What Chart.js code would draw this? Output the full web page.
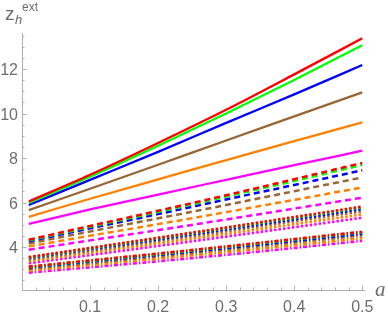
<!DOCTYPE html>
<html>
<head>
<meta charset="utf-8">
<script src="https://cdn.jsdelivr.net/npm/chart.js@4/dist/chart.umd.min.js"></script>
<style>
  html, body { margin: 0; padding: 0; background: #fff; }
  #grafico { display: block; }
</style>
</head>
<body>
<canvas id="grafico" width="388" height="319"></canvas>
<script>
// valores de a (eixo x)
const valoresA = [0.01, 0.1, 0.2, 0.3, 0.4, 0.5];

// cores das curvas: vermelho, verde, azul, marrom, laranja, magenta
const coresCurvas = ['#ff0000', '#00ff00', '#0000ff', '#996633', '#ff8000', '#ff00ff'];

// curvas continuas
const zSolido = [
    [6.05, 7.25, 8.68, 10.17, 11.76, 13.38],
    [5.99, 7.16, 8.55, 10.00, 11.51, 13.07],
    [5.89, 7.02, 8.28, 9.58, 10.86, 12.18],
    [5.66, 6.62, 7.70, 8.79, 9.87, 10.95],
    [5.36, 6.17, 7.04, 7.91, 8.76, 9.60],
    [5.04, 5.69, 6.36, 7.02, 7.68, 8.33]
];

// curvas tracejadas
const zTracejado = [
    [4.33, 4.95, 5.63, 6.33, 7.05, 7.78],
    [4.30, 4.91, 5.58, 6.27, 6.97, 7.69],
    [4.26, 4.84, 5.48, 6.14, 6.79, 7.45],
    [4.16, 4.70, 5.29, 5.89, 6.51, 7.13],
    [4.03, 4.51, 5.03, 5.57, 6.12, 6.68],
    [3.88, 4.30, 4.76, 5.24, 5.73, 6.22]
];

// curvas pontilhadas
const zPontilhado = [
    [3.55, 3.96, 4.42, 4.88, 5.35, 5.82],
    [3.53, 3.94, 4.40, 4.86, 5.32, 5.79],
    [3.51, 3.91, 4.35, 4.80, 5.25, 5.71],
    [3.44, 3.83, 4.27, 4.71, 5.16, 5.61],
    [3.36, 3.74, 4.16, 4.59, 5.03, 5.47],
    [3.27, 3.64, 4.05, 4.47, 4.89, 5.32]
];

// curvas ponto-traco
const zPontoTraco = [
    [3.12, 3.40, 3.71, 4.03, 4.36, 4.69],
    [3.10, 3.38, 3.69, 4.01, 4.34, 4.67],
    [3.08, 3.35, 3.65, 3.96, 4.28, 4.60],
    [3.02, 3.28, 3.58, 3.88, 4.20, 4.52],
    [2.94, 3.19, 3.48, 3.77, 4.08, 4.40],
    [2.85, 3.09, 3.36, 3.65, 3.96, 4.28]
];

// marcas dos eixos
const ticksX = [0.1, 0.2, 0.3, 0.4, 0.5];
const ticksY = [4, 6, 8, 10, 12];

const corEixo = '#b0b0b0';
const corTexto = '#6e6e6e';

// monta os datasets de um grupo de curvas
function montarGrupo(grupo, tracejado, espessura) {
    return grupo.map((valores, i) => ({
        data: valores.map((z, j) => ({ x: valoresA[j], y: z })),
        borderColor: coresCurvas[i],
        borderWidth: espessura,
        borderDash: tracejado,
        borderCapStyle: 'butt',
        pointRadius: 0,
        cubicInterpolationMode: 'monotone',
        fill: false
    }));
}

const datasets = [
    ...montarGrupo(zPontoTraco, [4, 2, 1.5, 2], 2.6),
    ...montarGrupo(zPontilhado, [2.5, 2], 2.6),
    ...montarGrupo(zTracejado, [6, 4], 2.5),
    ...montarGrupo(zSolido, [], 2.3)
];

// desenha eixos no estilo do Mathematica (ticks para dentro)
const pluginEixos = {
    id: 'eixos',
    beforeDatasetsDraw(chart) {
        const ctx = chart.ctx;
        const sx = chart.scales.x;
        const sy = chart.scales.y;
        const x0 = sx.getPixelForValue(0);
        const y0 = sy.getPixelForValue(sy.min);
        const xFim = sx.getPixelForValue(sx.max);
        const yTopo = sy.getPixelForValue(sy.max);

        ctx.save();
        ctx.strokeStyle = corEixo;
        ctx.lineWidth = 1;
        ctx.beginPath();
        ctx.moveTo(x0, y0 + 0.5);
        ctx.lineTo(xFim, y0 + 0.5);
        ctx.moveTo(x0 + 0.5, y0);
        ctx.lineTo(x0 + 0.5, yTopo);
        ctx.stroke();

        // ticks menores
        ctx.beginPath();
        for (let k = 1; k <= 25; k++) {
            const px = Math.round(sx.getPixelForValue(k * 0.02)) + 0.5;
            const tam = (k % 5 === 0) ? 4.5 : 2.5;
            ctx.moveTo(px, y0);
            ctx.lineTo(px, y0 - tam);
        }
        for (let v = 2.5; v <= sy.max; v += 0.5) {
            const py = Math.round(sy.getPixelForValue(v)) + 0.5;
            const tam = (v % 2 === 0) ? 4.5 : 2.5;
            ctx.moveTo(x0, py);
            ctx.lineTo(x0 + tam, py);
        }
        ctx.stroke();

        // rotulos
        ctx.fillStyle = corTexto;
        ctx.font = '16px "Liberation Sans", Arial, sans-serif';
        ctx.textAlign = 'center';
        ctx.textBaseline = 'alphabetic';
        ticksX.forEach(v => {
            ctx.fillText(String(v), sx.getPixelForValue(v), y0 + 22);
        });
        ctx.textAlign = 'right';
        ticksY.forEach(v => {
            ctx.fillText(String(v), x0 - 4, sy.getPixelForValue(v) + 6);
        });

        // nome do eixo x
        ctx.textAlign = 'left';
        ctx.font = 'italic 21px "Liberation Serif", serif';
        ctx.fillText('a', xFim + 10, y0 + 6);

        // nome do eixo y
        ctx.font = '19px "Liberation Sans", Arial, sans-serif';
        ctx.fillText('z', 5, 20);
        ctx.font = 'italic 13px "Liberation Sans", Arial, sans-serif';
        ctx.fillText('h', 15, 24);
        ctx.font = '12px "Liberation Sans", Arial, sans-serif';
        ctx.fillText('ext', 22, 11);
        ctx.restore();
    }
};

const grafico = new Chart(document.getElementById('grafico').getContext('2d'), {
    type: 'line',
    data: { datasets: datasets },
    options: {
        responsive: false,
        animation: false,
        layout: { padding: { left: 22, right: 23, top: 33, bottom: 29 } },
        scales: {
            x: { type: 'linear', min: 0, max: 0.504, display: false },
            y: { type: 'linear', min: 2.07, max: 13.62, display: false }
        },
        plugins: {
            legend: { display: false },
            tooltip: { enabled: false }
        }
    },
    plugins: [pluginEixos]
});
</script>
</body>
</html>
